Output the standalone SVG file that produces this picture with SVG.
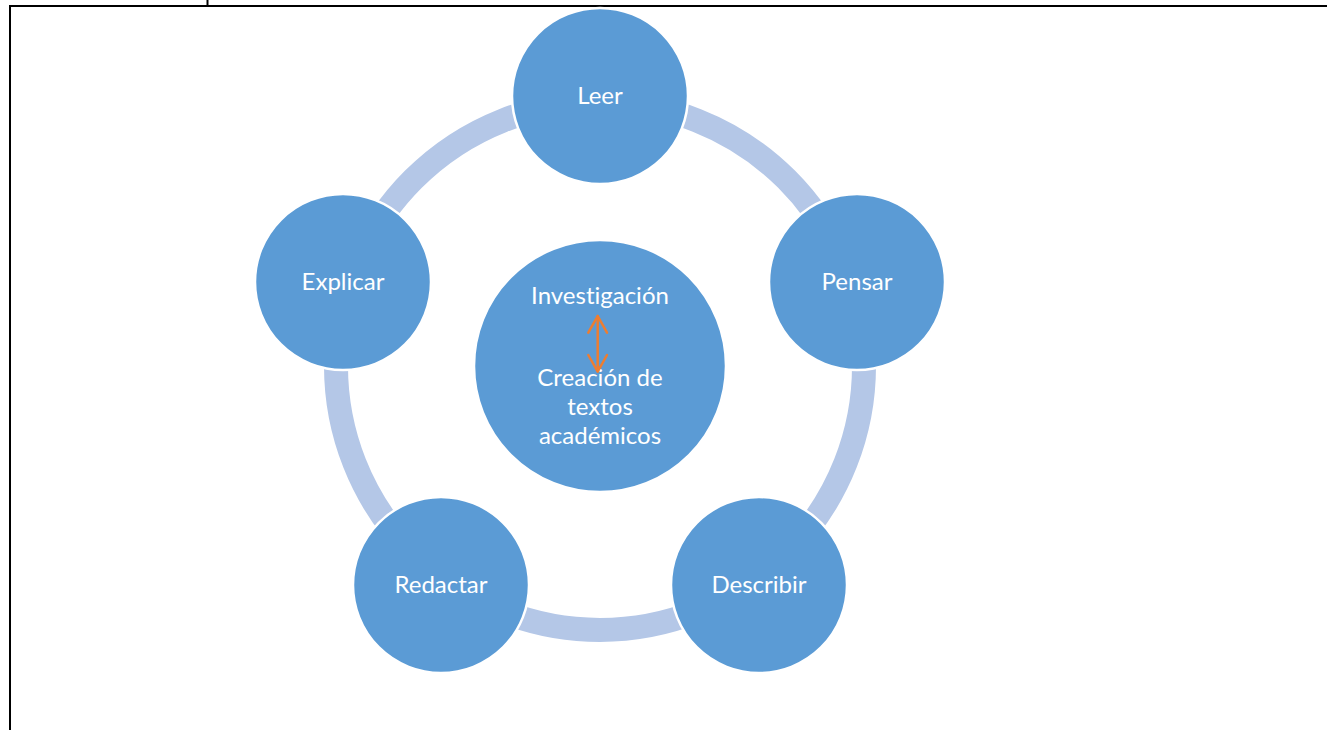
<svg xmlns="http://www.w3.org/2000/svg" width="1327" height="730" viewBox="0 0 1327 730">
<style>
.node{fill:#5B9BD5;stroke:#FFFFFF;stroke-width:2.5}
.lbl{font-family:Lato,"Open Sans","Liberation Sans",sans-serif;font-size:24px;fill:#FFFFFF;text-anchor:middle;dominant-baseline:central;font-variant-ligatures:none}
.frame{stroke:#000;stroke-width:2;fill:none}
.arr{stroke:#ED7D31;stroke-width:2.5;fill:none;stroke-linecap:round;stroke-linejoin:round}
</style>
<rect width="1327" height="730" fill="#FFFFFF"/>
<g id="frame">
<path class="frame" d="M10,730 V6 H1327"/>
<path class="frame" d="M207.5,0 V6"/>
</g>
<g id="ring">
<circle cx="600" cy="366" r="264" fill="none" stroke="#B4C7E7" stroke-width="24"/>
</g>
<g id="node-center">
<circle class="node" cx="600" cy="366" r="126"/>
<text class="lbl" x="600" y="294.5">Investigación</text>
<text class="lbl" x="600" y="376.5">Creación de</text>
<text class="lbl" x="600" y="405.5">textos</text>
<text class="lbl" x="600" y="434.5">académicos</text>
</g>
<g id="connectors">
<path class="arr" d="M597.7,316 V371"/>
<path class="arr" d="M588.3,332.7 L597.7,316 L607,332.7"/>
<path class="arr" d="M588.3,355 L597.7,371.7 L607,355"/>
</g>
<g id="node-leer">
<circle class="node" cx="600" cy="96" r="88"/>
<text class="lbl" x="600" y="94.5">Leer</text>
</g>
<g id="node-pensar">
<circle class="node" cx="857" cy="282" r="88"/>
<text class="lbl" x="857" y="280.5">Pensar</text>
</g>
<g id="node-describir">
<circle class="node" cx="759" cy="585" r="88"/>
<text class="lbl" x="759" y="583.5">Describir</text>
</g>
<g id="node-redactar">
<circle class="node" cx="441" cy="585" r="88"/>
<text class="lbl" x="441" y="583.5">Redactar</text>
</g>
<g id="node-explicar">
<circle class="node" cx="343" cy="282" r="88"/>
<text class="lbl" x="343" y="280.5">Explicar</text>
</g>
</svg>
